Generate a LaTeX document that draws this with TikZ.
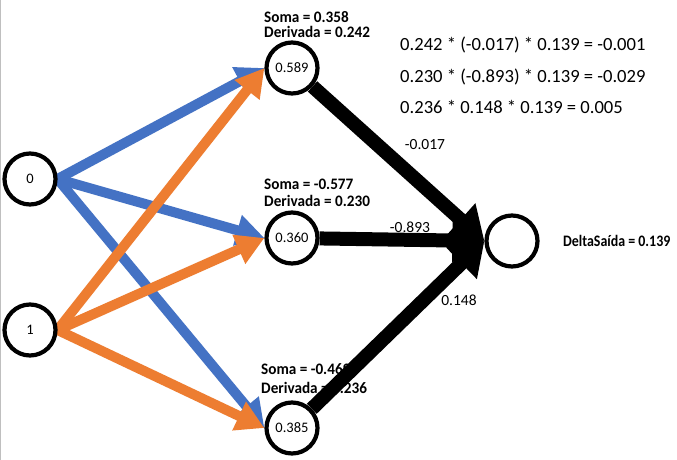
\documentclass[tikz,border=0pt]{standalone}
\usepackage{fontspec}
\setmainfont{Carlito}
\usetikzlibrary{arrows.meta}
\definecolor{bl}{HTML}{4472C4}
\definecolor{og}{HTML}{ED7D31}
\begin{document}
\begin{tikzpicture}[x=1pt,y=-1pt,
  neuron/.style={circle,draw=black,line width=4.2pt,fill=white,minimum size=51pt,inner sep=0pt,font=\fontsize{14.5}{16}\selectfont},
  inarrow/.style={line width=10pt,-{Triangle[length=28pt,width=30pt]}},
  outarrow/.style={line width=14pt,-{Triangle[length=32pt,width=42pt]}},
  info/.style={font=\bfseries\fontsize{16}{18}\selectfont,anchor=west,inner sep=0pt},
  wlabel/.style={font=\fontsize{15.5}{17}\selectfont,inner sep=0pt},
  eq/.style={font=\fontsize{18.6}{20}\selectfont,anchor=west,inner sep=0pt}]
\useasboundingbox (0,0) rectangle (677,460);
\fill[white] (0,0) rectangle (677,460);
\draw[black!25,line width=1.2pt] (0.6,0) -- (0.6,460);

% positions
\coordinate (pi0) at (30,179);
\coordinate (pi1) at (30,330);
\coordinate (ph1) at (292,68);
\coordinate (ph2) at (292,238);
\coordinate (ph3) at (292,428);
\coordinate (pout) at (512,241);

% texts
\node[info] (s1) at (264,17) {\scalebox{0.95}[1]{Soma = 0.358}};
\node[info] (d1) at (264,32) {\scalebox{0.95}[1]{Derivada = 0.242}};
\node[info] (s2) at (264,184) {\scalebox{0.95}[1]{Soma = -0.577}};
\node[info] (d2) at (264,201) {\scalebox{0.95}[1]{Derivada = 0.230}};
\node[info] (s3) at (261,369) {\scalebox{0.95}[1]{Soma = -0.469}};
\node[info] (d3) at (261,388) {\scalebox{0.95}[1]{Derivada = 0.236}};
\node[info] (delta) at (563,241) {\scalebox{0.87}[1]{DeltaSaída = 0.139}};
\node[eq] (e1) at (400,45) {0.242 * (-0.017) * 0.139 = -0.001};
\node[eq] (e2) at (400,77) {0.230 * (-0.893) * 0.139 = -0.029};
\node[eq] (e3) at (400,107) {0.236 * 0.148 * 0.139 = 0.005};
\node[wlabel] (w1) at (425,145) {-0.017};
\node[wlabel] (w2) at (410,227) {-0.893};
\node[wlabel] (w3) at (459,300) {0.148};

% node shapes (for anchors)
\path (pi0) node[neuron,draw=none,fill=none] (i0) {}
      (pi1) node[neuron,draw=none,fill=none] (i1) {}
      (ph1) node[neuron,draw=none,fill=none] (h1) {}
      (ph2) node[neuron,draw=none,fill=none] (h2) {}
      (ph3) node[neuron,draw=none,fill=none] (h3) {}
      (pout) node[neuron,draw=none,fill=none] (out) {};

% connectors
\draw[inarrow,bl] (i0.east) -- (h1.west);
\draw[inarrow,bl] (i0.east) -- (h2.west);
\draw[inarrow,bl] (i0.east) -- (h3.west);
\draw[inarrow,og] (i1.east) -- (h1.west);
\draw[inarrow,og] (i1.east) -- (h2.west);
\draw[inarrow,og] (i1.east) -- (h3.west);
\draw[outarrow] (h1) -- (out.west);
\draw[outarrow] (h2) -- (out.west);
\draw[outarrow] (h3) -- (out.west);

% neurons
\node[neuron] (n0) at (pi0) {0};
\node[neuron] (n1) at (pi1) {1};
\node[neuron] (m1) at (ph1) {0.589};
\node[neuron] (m2) at (ph2) {0.360};
\node[neuron] (m3) at (ph3) {0.385};
\node[neuron] (o1) at (pout) {};
\end{tikzpicture}
\end{document}
